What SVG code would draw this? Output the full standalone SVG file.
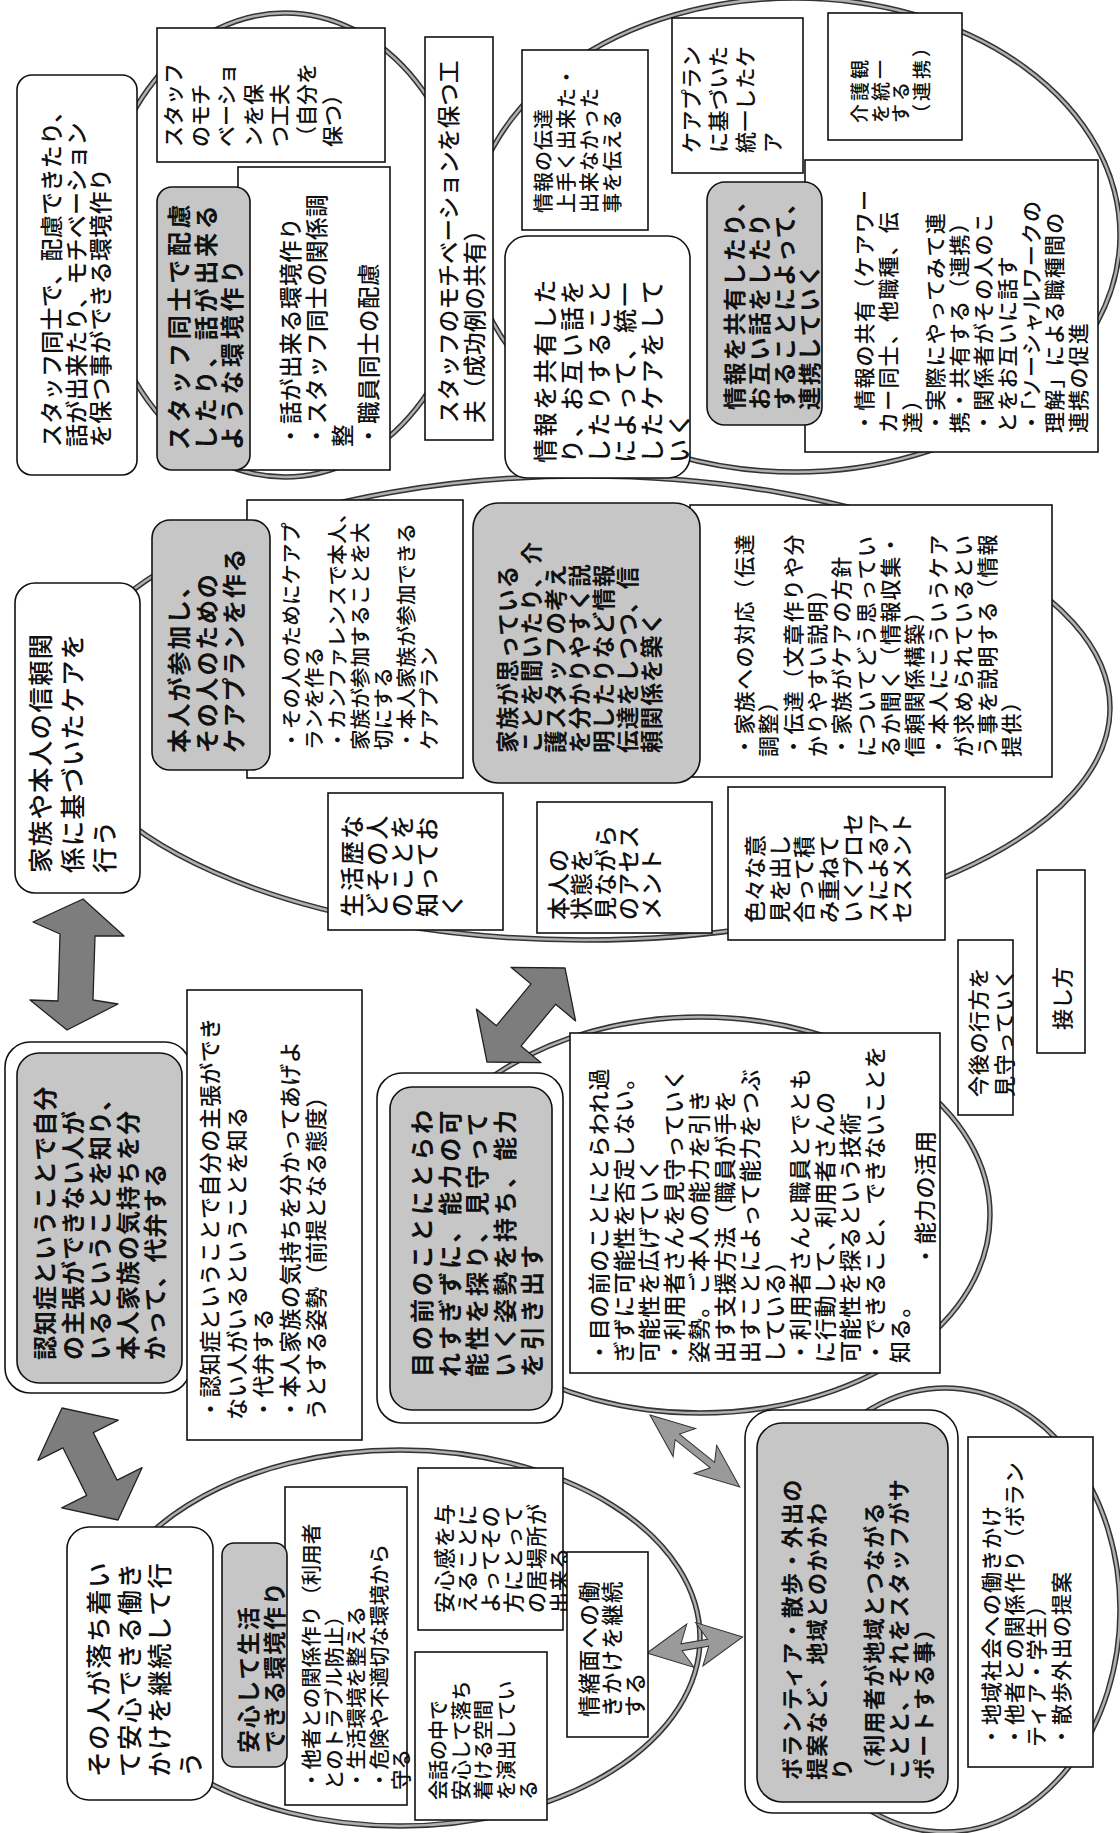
<svg xmlns="http://www.w3.org/2000/svg" width="1120" height="1833" viewBox="0 0 1120 1833">
<style>
.bx{fill:#fff;stroke:#111;stroke-width:1.6}
.gb{fill:#c6c6c6;stroke:#111;stroke-width:1.6}
.e1{fill:none;stroke:#333;stroke-width:5.5}
.e2{fill:none;stroke:#b0b0b0;stroke-width:2.5}
.fa{fill:#7d7d7d;stroke:#222;stroke-width:1.3;stroke-linejoin:round}
.ta{fill:#9a9a9a;stroke:#333;stroke-width:1}
.t{font-family:"Noto Sans CJK JP","Noto Sans CJK SC",sans-serif;fill:#111;font-weight:500;dominant-baseline:central}
.b{font-weight:bold}
</style>
<rect width="1120" height="1833" fill="#fff"/>

<g id="clusters">
  <ellipse class="e1" cx="285" cy="245" rx="185" ry="232"/><ellipse class="e2" cx="285" cy="245" rx="185" ry="232"/>
  <ellipse class="e1" cx="795" cy="235" rx="325" ry="237"/><ellipse class="e2" cx="795" cy="235" rx="325" ry="237"/>
  <ellipse class="e1" cx="585" cy="708" rx="525" ry="232"/><ellipse class="e2" cx="585" cy="708" rx="525" ry="232"/>
  <ellipse class="e1" cx="700" cy="1215" rx="290" ry="198"/><ellipse class="e2" cx="700" cy="1215" rx="290" ry="198"/>
  <ellipse class="e1" cx="400" cy="1638" rx="300" ry="188"/><ellipse class="e2" cx="400" cy="1638" rx="300" ry="188"/>
  <ellipse class="e1" cx="945" cy="1610" rx="175" ry="222"/><ellipse class="e2" cx="945" cy="1610" rx="175" ry="222"/>
</g>

<g id="connectors">
  <polygon class="fa" points="83,899 124,936 95,936 93,1000 118,1004 67,1030 30,1000 58,1001 60,934 33,922"/>
  <polygon class="fa" points="62,1408 118.3,1420.1 93.3,1432.6 117.1,1480.2 142.1,1467.7 118,1520 61.7,1507.9 86.7,1495.4 62.9,1447.8 37.9,1460.3"/>
  <polygon class="fa" points="565,968 575.6,1020.9 555.6,1004.3 521,1046.1 541,1062.7 487,1062 476.4,1009.1 496.4,1025.7 531,983.9 511,967.3"/>
  <polygon class="ta" transform="translate(650,1415) rotate(38.7)" points="0,0 44,-18 35,-3.5 80,-3.5 71,-18 115,0 71,18 80,3.5 35,3.5 44,18"/>
  <polygon class="ta" transform="translate(647,1653) rotate(-9.5)" points="0,0 44,-22 35,-3.5 62,-3.5 53,-22 97,0 53,22 62,3.5 35,3.5 44,22"/>
</g>

<g id="n-staff-env">
  <rect class="bx" x="17" y="75" width="120" height="400" rx="15"/>
  <text class="t" font-size="23" letter-spacing="0.3" transform="translate(50,447) rotate(-90)"><tspan x="0" y="0">スタッフ同士で、配慮できたり、</tspan><tspan x="0" y="24.5">話が出来たり、モチベーション</tspan><tspan x="0" y="49">を保つ事ができる環境作り</tspan></text>
</g>

<g id="n-motivation-self">
  <rect class="bx" x="157" y="28" width="228" height="134"/>
  <text class="t" font-size="21" transform="translate(172,147) rotate(-90)"><tspan x="0" y="0">スタッフ</tspan><tspan x="0" y="26.5">のモチ</tspan><tspan x="0" y="53">ベーショ</tspan><tspan x="0" y="79.5">ンを保</tspan><tspan x="0" y="106">つ工夫</tspan><tspan x="0" y="132.5">（自分を</tspan><tspan x="0" y="159">保つ）</tspan></text>
</g>

<g id="n-staff-list">
  <rect class="bx" x="238" y="167" width="152" height="303"/>
  <text class="t" font-size="22.5" letter-spacing="0.5" transform="translate(289,447) rotate(-90)"><tspan x="0" y="0">・話が出来る環境作り</tspan><tspan x="0" y="26">・スタッフ同士の関係調</tspan><tspan x="0" y="52">整</tspan><tspan x="0" y="78">・職員同士の配慮</tspan></text>
</g>

<g id="n-staff-talk">
  <rect class="gb" x="157" y="187" width="93" height="283" rx="15"/>
  <text class="t b" font-size="24" letter-spacing="3.7" transform="translate(177,450) rotate(-90)"><tspan x="0" y="0">スタッフ同士で配慮</tspan><tspan x="0" y="26.5">したり、話が出来る</tspan><tspan x="0" y="53">ような環境作り</tspan></text>
</g>

<g id="n-motivation-share">
  <rect class="bx" x="425" y="37" width="68" height="403"/>
  <text class="t" font-size="22.5" letter-spacing="0.2" transform="translate(447,423) rotate(-90)"><tspan x="0" y="0">スタッフのモチベーションを保つ工</tspan><tspan x="0" y="26">夫（成功例の共有）</tspan></text>
</g>

<g id="n-info-transfer">
  <rect class="bx" x="522" y="50" width="126" height="180"/>
  <text class="t" font-size="20" letter-spacing="1" transform="translate(542,213) rotate(-90)"><tspan x="0" y="0">情報の伝達</tspan><tspan x="0" y="23">上手く出来た・</tspan><tspan x="0" y="46">出来なかった</tspan><tspan x="0" y="69">事を伝える</tspan></text>
</g>

<g id="n-info-share">
  <rect class="bx" x="505" y="236" width="185" height="242" rx="22"/>
  <text class="t" font-size="24" letter-spacing="2.6" transform="translate(543,463) rotate(-90)"><tspan x="0" y="0">情報を共有した</tspan><tspan x="0" y="26.8">り、お互い話を</tspan><tspan x="0" y="53.6">したりすること</tspan><tspan x="0" y="80.4">によって、統一</tspan><tspan x="0" y="107.2">したケアをして</tspan><tspan x="0" y="134">いく</tspan></text>
</g>

<g id="n-careplan-unified">
  <rect class="bx" x="672" y="18" width="131" height="155"/>
  <text class="t" font-size="21" letter-spacing="0.5" transform="translate(690,153) rotate(-90)"><tspan x="0" y="0">ケアプラン</tspan><tspan x="0" y="27">に基づいた</tspan><tspan x="0" y="54">統一したケ</tspan><tspan x="0" y="81">ア</tspan></text>
</g>

<g id="n-care-view">
  <rect class="bx" x="828" y="13" width="134" height="127"/>
  <text class="t" font-size="19" letter-spacing="3" transform="translate(858,123) rotate(-90)"><tspan x="0" y="0">介護観</tspan><tspan x="0" y="20.5">を統一</tspan><tspan x="0" y="41">する</tspan><tspan x="0" y="61.5">（連携）</tspan></text>
</g>

<g id="n-collab-list">
  <rect class="bx" x="805" y="160" width="293" height="292"/>
  <text class="t" font-size="21" letter-spacing="1.2" transform="translate(863,433) rotate(-90)"><tspan x="0" y="0">・情報の共有（ケアワー</tspan><tspan x="0" y="23.8">カー同士、他職種、伝</tspan><tspan x="0" y="47.6">達）</tspan><tspan x="0" y="71.4">・実際にやってみて連</tspan><tspan x="0" y="95.2">携・共有する（連携）</tspan><tspan x="0" y="119">・関係者がその人のこ</tspan><tspan x="0" y="142.8">とをお互いに話す</tspan><tspan x="0" y="166.6">・「ソーシャルワークの</tspan><tspan x="0" y="190.4">理解」による職種間の</tspan><tspan x="0" y="214.2">連携の促進</tspan></text>
</g>

<g id="n-collab">
  <rect class="gb" x="707" y="182" width="115" height="243" rx="18"/>
  <text class="t b" font-size="23" letter-spacing="1.8" transform="translate(733,410) rotate(-90)"><tspan x="0" y="0">情報を共有したり、</tspan><tspan x="0" y="25">お互い話をしたり</tspan><tspan x="0" y="50">することによって、</tspan><tspan x="0" y="75">連携していく</tspan></text>
</g>

<g id="n-trust">
  <rect class="bx" x="15" y="583" width="125" height="310" rx="20"/>
  <text class="t" font-size="25.5" letter-spacing="1.2" transform="translate(38,873) rotate(-90)"><tspan x="0" y="0">家族や本人の信頼関</tspan><tspan x="0" y="32">係に基づいたケアを</tspan><tspan x="0" y="64">行う</tspan></text>
</g>

<g id="n-careplan-list">
  <rect class="bx" x="247" y="500" width="216" height="278"/>
  <text class="t" font-size="20.5" letter-spacing="0.2" transform="translate(290,750) rotate(-90)"><tspan x="0" y="0">・その人のためにケアプ</tspan><tspan x="0" y="23">ランを作る</tspan><tspan x="0" y="46">・カンファレンスで本人、</tspan><tspan x="0" y="69">家族が参加することを大</tspan><tspan x="0" y="92">切にする</tspan><tspan x="0" y="115">・本人家族が参加できる</tspan><tspan x="0" y="138">ケアプラン</tspan></text>
</g>

<g id="n-careplan">
  <rect class="gb" x="152" y="520" width="118" height="250" rx="18"/>
  <text class="t b" font-size="24" letter-spacing="1.8" transform="translate(177,753) rotate(-90)"><tspan x="0" y="0">本人が参加し、</tspan><tspan x="0" y="27.5">その人のための</tspan><tspan x="0" y="55">ケアプランを作る</tspan></text>
</g>

<g id="n-family-list">
  <rect class="bx" x="690" y="505" width="362" height="272"/>
  <text class="t" font-size="21" letter-spacing="1.4" transform="translate(743,757) rotate(-90)"><tspan x="0" y="0">・家族への対応（伝達</tspan><tspan x="0" y="24.3">調整）</tspan><tspan x="0" y="48.6">・伝達（文章作りや分</tspan><tspan x="0" y="72.9">かりやすい説明）</tspan><tspan x="0" y="97.2">・家族がケアの方針</tspan><tspan x="0" y="121.5">についてどう思ってい</tspan><tspan x="0" y="145.8">るか聞く（情報収集・</tspan><tspan x="0" y="170.1">信頼関係構築）</tspan><tspan x="0" y="194.4">・本人にこういうケア</tspan><tspan x="0" y="218.7">が求められているとい</tspan><tspan x="0" y="243">う事を説明する（情報</tspan><tspan x="0" y="267.3">提供）</tspan></text>
</g>

<g id="n-family">
  <rect class="gb" x="473" y="503" width="227" height="280" rx="25"/>
  <text class="t b" font-size="22.5" letter-spacing="1.2" transform="translate(506,753) rotate(-90)"><tspan x="0" y="0">家族が思っている</tspan><tspan x="0" y="24">ことを聞いたり、介</tspan><tspan x="0" y="48">護スタッフの考え</tspan><tspan x="0" y="72">を分かりやすく説</tspan><tspan x="0" y="96">明したりなど情報</tspan><tspan x="0" y="120">伝達をしつつ、信</tspan><tspan x="0" y="144">頼関係を築く</tspan></text>
</g>

<g id="n-history">
  <rect class="bx" x="328" y="793" width="175" height="137"/>
  <text class="t" font-size="24" letter-spacing="2" transform="translate(350,917) rotate(-90)"><tspan x="0" y="0">生活歴な</tspan><tspan x="0" y="25">どその人</tspan><tspan x="0" y="50">のことを</tspan><tspan x="0" y="75">知ってお</tspan><tspan x="0" y="100">く</tspan></text>
</g>

<g id="n-assess">
  <rect class="bx" x="537" y="802" width="175" height="131"/>
  <text class="t" font-size="23" letter-spacing="1" transform="translate(557,920) rotate(-90)"><tspan x="0" y="0">本人の</tspan><tspan x="0" y="23.3">状態を</tspan><tspan x="0" y="46.6">見ながら</tspan><tspan x="0" y="69.9">のアセス</tspan><tspan x="0" y="93.2">メント</tspan></text>
</g>

<g id="n-process">
  <rect class="bx" x="728" y="787" width="217" height="153"/>
  <text class="t" font-size="22" transform="translate(753,923) rotate(-90)"><tspan x="0" y="0">色々な意</tspan><tspan x="0" y="24.5">見を出し</tspan><tspan x="0" y="49">合って積</tspan><tspan x="0" y="73.5">み重ねて</tspan><tspan x="0" y="98">いくプロセ</tspan><tspan x="0" y="122.5">スによるア</tspan><tspan x="0" y="147">セスメント</tspan></text>
</g>

<g id="n-future">
  <rect class="bx" x="958" y="940" width="55" height="175"/>
  <text class="t" font-size="21" letter-spacing="0.7" transform="translate(977,1097) rotate(-90)"><tspan x="0" y="0">今後の行方を</tspan><tspan x="0" y="26">見守っていく</tspan></text>
</g>

<g id="n-manner">
  <rect class="bx" x="1037" y="870" width="48" height="183"/>
  <text class="t" font-size="21" transform="translate(1061,1030) rotate(-90)">接し方</text>
</g>

<g id="n-dementia">
  <rect class="bx" x="5" y="1042" width="185" height="351" rx="25"/>
  <rect class="gb" x="17" y="1053" width="165" height="330" rx="22"/>
  <text class="t b" font-size="24" letter-spacing="1" transform="translate(43,1360) rotate(-90)"><tspan x="0" y="0">認知症ということで自分</tspan><tspan x="0" y="27.5">の主張ができない人が</tspan><tspan x="0" y="55">いるということを知り、</tspan><tspan x="0" y="82.5">本人家族の気持ちを分</tspan><tspan x="0" y="110">かって、代弁する</tspan></text>
</g>

<g id="n-dementia-list">
  <rect class="bx" x="187" y="990" width="175" height="450"/>
  <text class="t" font-size="22" letter-spacing="0.4" transform="translate(208,1420) rotate(-90)"><tspan x="0" y="0">・認知症ということで自分の主張ができ</tspan><tspan x="0" y="26.5">ない人がいるということを知る</tspan><tspan x="0" y="53">・代弁する</tspan><tspan x="0" y="79.5">・本人家族の気持ちを分かってあげよ</tspan><tspan x="0" y="106">うとする姿勢（前提となる態度）</tspan></text>
</g>

<g id="n-ability">
  <rect class="bx" x="377" y="1073" width="186" height="350" rx="25"/>
  <rect class="gb" x="390" y="1087" width="162" height="323" rx="22"/>
  <text class="t b" font-size="24" letter-spacing="3" transform="translate(420,1377) rotate(-90)"><tspan x="0" y="0">目の前のことにとらわ</tspan><tspan x="0" y="27.5">れすぎずに、能力の可</tspan><tspan x="0" y="55">能性を探り、見守って</tspan><tspan x="0" y="82.5">いく姿勢を持ち、能力</tspan><tspan x="0" y="110">を引き出す</tspan></text>
</g>

<g id="n-ability-list">
  <rect class="bx" x="570" y="1033" width="370" height="340"/>
  <text class="t" font-size="22" letter-spacing="0.8" transform="translate(597,1363) rotate(-90)"><tspan x="0" y="0">・目の前のことにとらわれ過</tspan><tspan x="0" y="25.1">ぎずに可能性を否定しない。</tspan><tspan x="0" y="50.2">可能性を広げていく</tspan><tspan x="0" y="75.3">・利用者さんを見守っていく</tspan><tspan x="0" y="100.4">姿勢。ご本人の能力を引き</tspan><tspan x="0" y="125.5">出す支援方法（職員が手を</tspan><tspan x="0" y="150.6">出すことによって能力をつぶ</tspan><tspan x="0" y="175.7">している）</tspan><tspan x="0" y="200.8">・利用者さんと職員とでとも</tspan><tspan x="0" y="225.9">に行動して、利用者さんの</tspan><tspan x="0" y="251">可能性を探るという技術</tspan><tspan x="0" y="276.1">・できること、できないことを</tspan><tspan x="0" y="301.2">知る。</tspan></text>
  <text class="t" font-size="22" letter-spacing="0.8" transform="translate(923,1267) rotate(-90)">・能力の活用</text>
</g>

<g id="n-calm">
  <rect class="bx" x="67" y="1527" width="146" height="273" rx="22"/>
  <text class="t" font-size="25.5" letter-spacing="1.5" transform="translate(96,1777) rotate(-90)"><tspan x="0" y="0">その人が落ち着い</tspan><tspan x="0" y="30.5">て安心できる働き</tspan><tspan x="0" y="61">かけを継続して行</tspan><tspan x="0" y="91.5">う</tspan></text>
</g>

<g id="n-env-list">
  <rect class="bx" x="285" y="1487" width="122" height="318"/>
  <text class="t" font-size="20.5" transform="translate(310,1790) rotate(-90)"><tspan x="0" y="0">・他者との関係作り（利用者</tspan><tspan x="0" y="22.5">とのトラブル防止）</tspan><tspan x="0" y="45">・生活環境を整える</tspan><tspan x="0" y="67.5">・危険や不適切な環境から</tspan><tspan x="0" y="90">守る</tspan></text>
</g>

<g id="n-env">
  <rect class="gb" x="222" y="1543" width="65" height="224" rx="12"/>
  <text class="t b" font-size="23" letter-spacing="1.7" transform="translate(247,1753) rotate(-90)"><tspan x="0" y="0">安心して生活</tspan><tspan x="0" y="26">できる環境作り</tspan></text>
</g>

<g id="n-place">
  <rect class="bx" x="418" y="1468" width="145" height="162"/>
  <text class="t" font-size="21" letter-spacing="1" transform="translate(443,1613) rotate(-90)"><tspan x="0" y="0">安心感を与</tspan><tspan x="0" y="23">えることに</tspan><tspan x="0" y="46">よってその</tspan><tspan x="0" y="69">方にとって</tspan><tspan x="0" y="92">の居場所が</tspan><tspan x="0" y="115">出来る</tspan></text>
</g>

<g id="n-talk-space">
  <rect class="bx" x="415" y="1652" width="132" height="168"/>
  <text class="t" font-size="20" transform="translate(437,1800) rotate(-90)"><tspan x="0" y="0">会話の中で</tspan><tspan x="0" y="22.5">安心して落ち</tspan><tspan x="0" y="45">着ける空間</tspan><tspan x="0" y="67.5">を演出してい</tspan><tspan x="0" y="90">る</tspan></text>
</g>

<g id="n-emotion">
  <rect class="bx" x="567" y="1552" width="81" height="185"/>
  <text class="t" font-size="21.5" letter-spacing="1.3" transform="translate(587,1717) rotate(-90)"><tspan x="0" y="0">情緒面への働</tspan><tspan x="0" y="23">きかけを継続</tspan><tspan x="0" y="46">する</tspan></text>
</g>

<g id="n-community">
  <rect class="bx" x="745" y="1410" width="213" height="403" rx="28"/>
  <rect class="gb" x="757" y="1423" width="191" height="379" rx="25"/>
  <text class="t b" font-size="22" letter-spacing="1.3" transform="translate(790,1780) rotate(-90)"><tspan x="0" y="0">ボランティア・散歩・外出の</tspan><tspan x="0" y="25">提案など、地域とのかかわ</tspan><tspan x="0" y="50">り</tspan><tspan x="0" y="82">（利用者が地域とつながる</tspan><tspan x="0" y="107">ことと、それをスタッフがサ</tspan><tspan x="0" y="132">ポートする事）</tspan></text>
</g>

<g id="n-community-list">
  <rect class="bx" x="968" y="1437" width="125" height="330"/>
  <text class="t" font-size="21" letter-spacing="1" transform="translate(990,1747) rotate(-90)"><tspan x="0" y="0">・地域社会への働きかけ</tspan><tspan x="0" y="23">・他者との関係作り（ボラン</tspan><tspan x="0" y="45">ティア・学生）</tspan><tspan x="0" y="70">・散歩外出の提案</tspan></text>
</g>
</svg>
